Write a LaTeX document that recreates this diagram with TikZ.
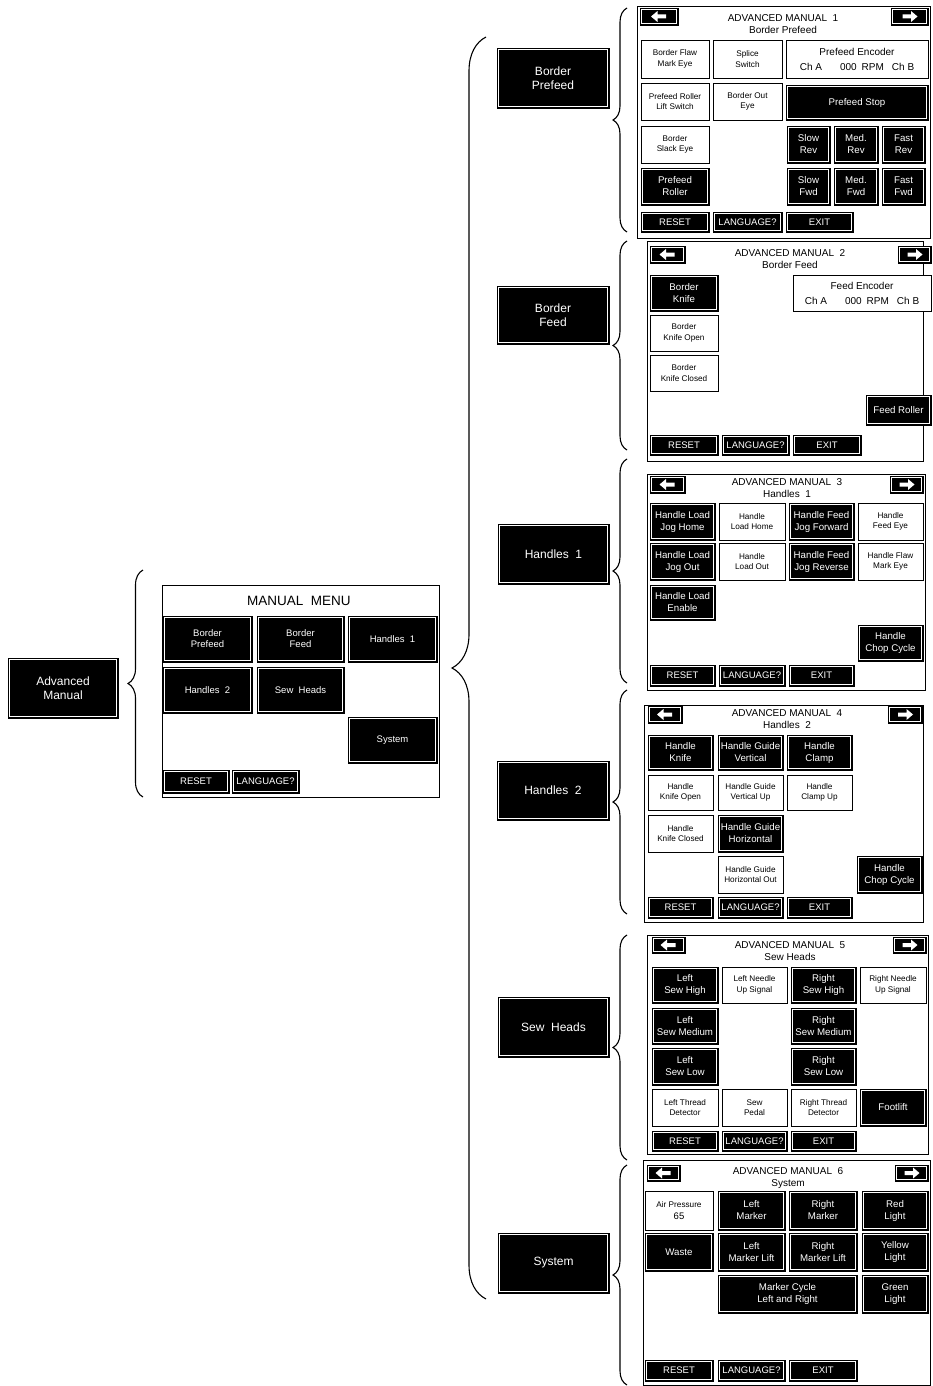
\documentclass[tikz,border=0pt]{standalone}
\usepackage{fontspec}
\setmainfont{Liberation Sans}
\usetikzlibrary{decorations.pathreplacing}
\tikzset{
 blk/.style={rectangle, fill=black, draw=black, line width=0.6pt, text=white, align=center, inner sep=0pt, font=\fontsize{9.7}{12}\selectfont,
   path picture={\draw[white, line width=0.9pt] ([shift={(1.9pt,-1.9pt)}]path picture bounding box.north west) rectangle ([shift={(-1.9pt,1.9pt)}]path picture bounding box.south east);}},
 wht/.style={rectangle, fill=white, draw=black, line width=0.8pt, align=center, inner sep=0pt, font=\fontsize{8.2}{10.5}\selectfont},
 enc/.style={wht, font=\fontsize{10}{15}\selectfont},
 scr/.style={rectangle, draw=black, line width=0.9pt, inner sep=0pt},
 big/.style={blk, font=\fontsize{12}{13.5}\selectfont},
 menu/.style={blk, font=\fontsize{9.5}{11}\selectfont},
 bot/.style={blk, font=\fontsize{9.5}{10}\selectfont},
 ttl/.style={inner sep=0pt, align=center, font=\fontsize{10}{12}\selectfont},
 brc/.style={decorate, decoration={brace, amplitude=#1}, line width=1.1pt},
}
\newcommand\btnbox[7]{\node[#1, minimum width={(#5)-(#3)}, minimum height={(#6)-(#4)}] (#2) at ({((#3)+(#5))/2},{((#4)+(#6))/2}) {#7};}
\newcommand\mkleft[1]{\fill[white,shift={(#1.center)}] (-8,0) -- (-1.5,-5.5) -- (-1.5,-2) -- (7,-2) -- (7,2) -- (-1.5,2) -- (-1.5,5.5) -- cycle;}
\newcommand\mkright[1]{\fill[white,shift={(#1.center)},xscale=-1] (-8,0) -- (-1.5,-5.5) -- (-1.5,-2) -- (7,-2) -- (7,2) -- (-1.5,2) -- (-1.5,5.5) -- cycle;}
\newcommand\enctext{Ch A\hspace{18pt}000\hspace{5pt}RPM\hspace{8pt}Ch B}
\begin{document}
\begin{tikzpicture}[x=1pt,y=-1pt]
\fill[white] (0,0) rectangle (933,1386);
\useasboundingbox (0,0) rectangle (933,1386);

% left
\btnbox{big}{adv}{8}{658}{118}{718}{Advanced\\Manual}
\coordinate (lbA) at (143,797);
\coordinate (lbB) at (143,570);
\draw[brc=15] (lbA) -- (lbB);

% manual menu
\btnbox{scr}{mm}{162}{585}{439}{797}{}
\node[inner sep=0pt, font=\fontsize{13.5}{15}\selectfont] (mmt) at (299,601) {MANUAL\ \ MENU};
\btnbox{menu}{mbp}{163}{616}{252}{662}{Border\\Prefeed}
\btnbox{menu}{mbf}{257}{616}{344}{662}{Border\\Feed}
\btnbox{menu}{mh1}{348}{616}{437}{662}{Handles\ \ 1}
\btnbox{menu}{mh2}{163}{667}{252}{713}{Handles\ \ 2}
\btnbox{menu}{msh}{257}{667}{344}{713}{Sew\ \ Heads}
\btnbox{menu}{msy}{348}{717}{437}{763}{System}
\btnbox{bot}{mrs}{163}{770}{229}{793}{RESET}
\btnbox{bot}{mlg}{232}{770}{299}{793}{LANGUAGE?}

% big brace
\coordinate (bbA) at (486,1299);
\coordinate (bbB) at (486,37);
\draw[brc=34] (bbA) -- (bbB);

% middle column
\btnbox{big}{cbp}{497}{48}{609}{108}{Border\\Prefeed}
\btnbox{big}{cbf}{497}{286}{609}{344}{Border\\Feed}
\btnbox{big}{ch1}{498}{524}{609}{584}{Handles\ \ 1}
\btnbox{big}{ch2}{497}{761}{609}{820}{Handles\ \ 2}
\btnbox{big}{csh}{498}{997}{609}{1057}{Sew\ \ Heads}
\btnbox{big}{csy}{498}{1233}{609}{1293}{System}

% small braces
\coordinate (b1A) at (627,232); \coordinate (b1B) at (627,8);
\coordinate (b2A) at (627,450); \coordinate (b2B) at (627,241);
\coordinate (b3A) at (627,683); \coordinate (b3B) at (627,459);
\coordinate (b4A) at (627,914); \coordinate (b4B) at (627,690);
\coordinate (b5A) at (627,1160); \coordinate (b5B) at (627,935);
\coordinate (b6A) at (627,1385); \coordinate (b6B) at (627,1165);
\draw[brc=14] (b1A) -- (b1B);
\draw[brc=14] (b2A) -- (b2B);
\draw[brc=14] (b3A) -- (b3B);
\draw[brc=14] (b4A) -- (b4B);
\draw[brc=14] (b5A) -- (b5B);
\draw[brc=14] (b6A) -- (b6B);

% screen 1
\btnbox{scr}{s1}{637}{6}{930}{238}{}
\btnbox{blk}{s1l}{640}{8}{678}{25}{}\mkleft{s1l}
\btnbox{blk}{s1r}{891}{8}{928}{25}{}\mkright{s1r}
\node[ttl] (s1t) at (783,24) {ADVANCED MANUAL\ \ 1\\Border Prefeed};
\btnbox{wht}{s1a}{641}{40}{709}{78}{Border Flaw\\Mark Eye}
\btnbox{wht}{s1b}{713}{40}{782}{78}{Splice\\Switch}
\btnbox{enc}{s1c}{786}{40}{928}{78}{Prefeed Encoder\\\enctext}
\btnbox{wht}{s1d}{641}{83}{709}{120}{Prefeed Roller\\Lift Switch}
\btnbox{wht}{s1e}{713}{83}{782}{120}{Border Out\\Eye}
\btnbox{blk}{s1f}{786}{85}{928}{120}{Prefeed Stop}
\btnbox{wht}{s1g}{641}{126}{709}{163}{Border\\Slack Eye}
\btnbox{blk}{s1h}{787}{126}{830}{163}{Slow\\Rev}
\btnbox{blk}{s1i}{834}{126}{878}{163}{Med.\\Rev}
\btnbox{blk}{s1j}{882}{126}{925}{163}{Fast\\Rev}
\btnbox{blk}{s1k}{641}{168}{709}{205}{Prefeed\\Roller}
\btnbox{blk}{s1m}{787}{168}{830}{205}{Slow\\Fwd}
\btnbox{blk}{s1n}{834}{168}{878}{205}{Med.\\Fwd}
\btnbox{blk}{s1o}{882}{168}{925}{205}{Fast\\Fwd}
\btnbox{bot}{s1p}{641}{212}{709}{232}{RESET}
\btnbox{bot}{s1q}{713}{212}{782}{232}{LANGUAGE?}
\btnbox{bot}{s1s}{786}{212}{853}{232}{EXIT}

% screen 2
\btnbox{scr}{s2}{647}{241}{923}{461}{}
\btnbox{blk}{s2l}{650}{246}{685}{263}{}\mkleft{s2l}
\btnbox{blk}{s2r}{898}{246}{931}{263}{}\mkright{s2r}
\node[ttl] (s2t) at (790,259.5) {ADVANCED MANUAL\ \ 2\\Border Feed};
\btnbox{blk}{s2a}{650}{275}{718}{311}{Border\\Knife}
\btnbox{enc}{s2b}{793}{275}{931}{311}{Feed Encoder\\\enctext}
\btnbox{wht}{s2c}{650}{315}{718}{351}{Border\\Knife Open}
\btnbox{wht}{s2d}{650}{355}{718}{391}{Border\\Knife Closed}
\btnbox{blk}{s2e}{866}{395}{931}{425}{Feed Roller}
\btnbox{bot}{s2f}{650}{435}{718}{455}{RESET}
\btnbox{bot}{s2g}{722}{435}{789}{455}{LANGUAGE?}
\btnbox{bot}{s2h}{793}{435}{861}{455}{EXIT}

% screen 3
\btnbox{scr}{s3}{647}{474}{925}{690}{}
\btnbox{blk}{s3l}{650}{476}{685}{493}{}\mkleft{s3l}
\btnbox{blk}{s3r}{890}{476}{923}{493}{}\mkright{s3r}
\node[ttl] (s3t) at (787,488.5) {ADVANCED MANUAL\ \ 3\\Handles\ \ 1};
\btnbox{blk}{s3a}{650}{503}{715}{540}{Handle Load\\Jog Home}
\btnbox{wht}{s3b}{719}{503}{785}{540}{Handle\\Load Home}
\btnbox{blk}{s3c}{789}{503}{854}{540}{Handle Feed\\Jog Forward}
\btnbox{wht}{s3d}{858}{503}{923}{540}{Handle\\Feed Eye}
\btnbox{blk}{s3e}{650}{543}{715}{580}{Handle Load\\Jog Out}
\btnbox{wht}{s3f}{719}{543}{785}{580}{Handle\\Load Out}
\btnbox{blk}{s3g}{789}{543}{854}{580}{Handle Feed\\Jog Reverse}
\btnbox{wht}{s3h}{858}{543}{923}{580}{Handle Flaw\\Mark Eye}
\btnbox{blk}{s3i}{650}{585}{715}{620}{Handle Load\\Enable}
\btnbox{blk}{s3j}{858}{625}{923}{661}{Handle\\Chop Cycle}
\btnbox{bot}{s3k}{650}{665}{715}{686}{RESET}
\btnbox{bot}{s3m}{719}{665}{785}{686}{LANGUAGE?}
\btnbox{bot}{s3n}{789}{665}{854}{686}{EXIT}

% screen 4
\btnbox{scr}{s4}{644}{705}{923}{922}{}
\btnbox{blk}{s4l}{648}{706}{682}{723}{}\mkleft{s4l}
\btnbox{blk}{s4r}{888}{706}{922}{723}{}\mkright{s4r}
\node[ttl] (s4t) at (787,719) {ADVANCED MANUAL\ \ 4\\Handles\ \ 2};
\btnbox{blk}{s4a}{648}{735}{713}{770}{Handle\\Knife}
\btnbox{blk}{s4b}{718}{735}{783}{770}{Handle Guide\\Vertical}
\btnbox{blk}{s4c}{787}{735}{852}{770}{Handle\\Clamp}
\btnbox{wht}{s4d}{648}{775}{713}{810}{Handle\\Knife Open}
\btnbox{wht}{s4e}{718}{775}{783}{810}{Handle Guide\\Vertical Up}
\btnbox{wht}{s4f}{787}{775}{852}{810}{Handle\\Clamp Up}
\btnbox{wht}{s4g}{648}{815}{713}{852}{Handle\\Knife Closed}
\btnbox{blk}{s4h}{718}{815}{783}{852}{Handle Guide\\Horizontal}
\btnbox{wht}{s4i}{718}{856}{783}{893}{Handle Guide\\Horizontal Out}
\btnbox{blk}{s4j}{857}{856}{922}{893}{Handle\\Chop Cycle}
\btnbox{bot}{s4k}{648}{897}{713}{918}{RESET}
\btnbox{bot}{s4m}{718}{897}{783}{918}{LANGUAGE?}
\btnbox{bot}{s4n}{787}{897}{852}{918}{EXIT}

% screen 5
\btnbox{scr}{s5}{647}{935}{928}{1154}{}
\btnbox{blk}{s5l}{652}{937}{685}{953}{}\mkleft{s5l}
\btnbox{blk}{s5r}{893}{937}{926}{953}{}\mkright{s5r}
\node[ttl] (s5t) at (790,951.5) {ADVANCED MANUAL\ \ 5\\Sew Heads};
\btnbox{blk}{s5a}{652}{967}{718}{1003}{Left\\Sew High}
\btnbox{wht}{s5b}{722}{967}{787}{1003}{Left Needle\\Up Signal}
\btnbox{blk}{s5c}{791}{967}{856}{1003}{Right\\Sew High}
\btnbox{wht}{s5d}{860}{967}{926}{1003}{Right Needle\\Up Signal}
\btnbox{blk}{s5e}{652}{1008}{718}{1044}{Left\\Sew Medium}
\btnbox{blk}{s5f}{791}{1008}{856}{1044}{Right\\Sew Medium}
\btnbox{blk}{s5g}{652}{1048}{718}{1085}{Left\\Sew Low}
\btnbox{blk}{s5h}{791}{1048}{856}{1085}{Right\\Sew Low}
\btnbox{wht}{s5i}{652}{1089}{718}{1126}{Left Thread\\Detector}
\btnbox{wht}{s5j}{722}{1089}{787}{1126}{Sew\\Pedal}
\btnbox{wht}{s5k}{791}{1089}{856}{1126}{Right Thread\\Detector}
\btnbox{blk}{s5m}{860}{1089}{926}{1126}{Footlift}
\btnbox{bot}{s5n}{652}{1131}{718}{1151}{RESET}
\btnbox{bot}{s5o}{722}{1131}{787}{1151}{LANGUAGE?}
\btnbox{bot}{s5p}{791}{1131}{856}{1151}{EXIT}

% screen 6
\btnbox{scr}{s6}{643}{1160}{930}{1385}{}
\btnbox{blk}{s6l}{647}{1165}{680}{1181}{}\mkleft{s6l}
\btnbox{blk}{s6r}{895}{1165}{928}{1181}{}\mkright{s6r}
\node[ttl] (s6t) at (788,1178) {ADVANCED MANUAL\ \ 6\\System};
\btnbox{wht}{s6a}{645}{1191}{713}{1230}{Air Pressure\\[2pt]{\fontsize{9.5}{10}\selectfont 65}}
\btnbox{blk}{s6b}{718}{1191}{785}{1230}{Left\\Marker}
\btnbox{blk}{s6c}{789}{1191}{857}{1230}{Right\\Marker}
\btnbox{blk}{s6d}{862}{1191}{928}{1230}{Red\\Light}
\btnbox{blk}{s6e}{645}{1233}{713}{1271}{Waste}
\btnbox{blk}{s6f}{718}{1233}{785}{1271}{Left\\Marker Lift}
\btnbox{blk}{s6g}{789}{1233}{857}{1271}{Right\\Marker Lift}
\btnbox{blk}{s6h}{862}{1233}{928}{1271}{Yellow\\Light}
\btnbox{blk}{s6i}{718}{1275}{857}{1313}{Marker Cycle\\Left and Right}
\btnbox{blk}{s6j}{862}{1275}{928}{1313}{Green\\Light}
\btnbox{bot}{s6k}{645}{1360}{713}{1381}{RESET}
\btnbox{bot}{s6m}{718}{1360}{785}{1381}{LANGUAGE?}
\btnbox{bot}{s6n}{789}{1360}{857}{1381}{EXIT}
\end{tikzpicture}
\end{document}
